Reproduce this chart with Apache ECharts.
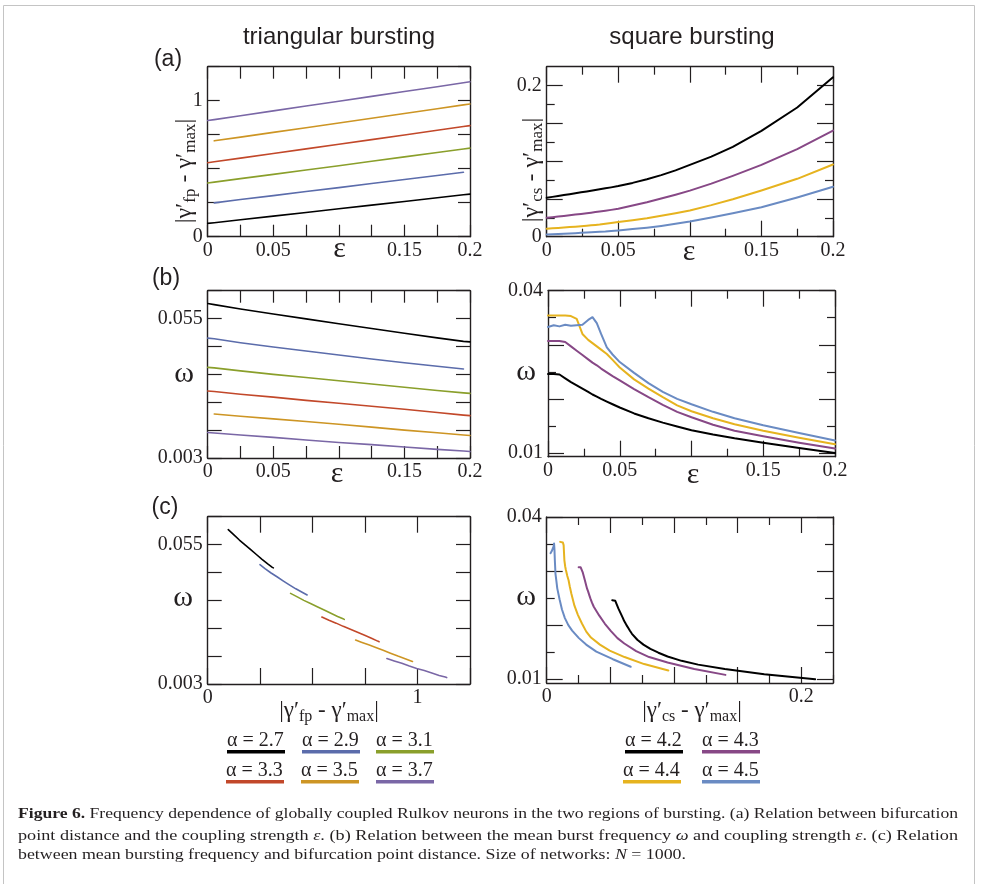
<!DOCTYPE html>
<html>
<head>
<meta charset="utf-8">
<title>Figure 6 – bursting frequency of coupled Rulkov neurons</title>
<script src="https://cdn.jsdelivr.net/npm/echarts@6/dist/echarts.min.js"></script>
<style>
  html, body { margin: 0; padding: 0; background: #ffffff; }
  #chart { width: 983px; height: 884px; }
</style>
</head>
<body>
<div id="chart"></div>
<script>
// ---------- triangular bursting: alpha = 2.7 ... 3.7 ----------
const epsTri = [0, 0.005, 0.025, 0.05, 0.075, 0.1, 0.125, 0.15, 0.175, 0.195, 0.2];
const alphaTri = ['2.7', '2.9', '3.1', '3.3', '3.5', '3.7'];
const colorsTri = ['#000000', '#5b6cab', '#8a9f2b', '#c2482a', '#cd9524', '#7a67a6'];

// bifurcation point distance |γ'fp - γ'max| versus coupling strength ε
const gapTri27 = [0.098, 0.103, 0.125, 0.151, 0.178, 0.205, 0.232, 0.259, 0.286, 0.308, 0.313];
const gapTri29 = [null, 0.249, 0.273, 0.302, 0.332, 0.361, 0.391, 0.420, 0.450, 0.474, null];
const gapTri31 = [0.395, 0.401, 0.427, 0.458, 0.490, 0.522, 0.555, 0.587, 0.619, 0.645, 0.651];
const gapTri33 = [0.544, 0.551, 0.578, 0.612, 0.646, 0.680, 0.714, 0.748, 0.783, 0.810, 0.817];
const gapTri35 = [null, 0.705, 0.732, 0.767, 0.801, 0.836, 0.871, 0.906, 0.941, 0.969, 0.976];
const gapTri37 = [0.854, 0.861, 0.889, 0.925, 0.961, 0.996, 1.032, 1.068, 1.103, 1.132, 1.139];

// mean burst frequency ω versus coupling strength ε
const omegaTri27 = [0.0606, 0.0602, 0.0586, 0.0567, 0.0549, 0.0531, 0.0513, 0.0495, 0.0478, 0.0465, 0.0463];
const omegaTri29 = [0.0477, 0.0475, 0.0460, 0.0444, 0.0429, 0.0414, 0.0399, 0.0385, 0.0372, 0.0362, null];
const omegaTri31 = [0.0368, 0.0366, 0.0355, 0.0342, 0.0330, 0.0318, 0.0306, 0.0294, 0.0282, 0.0273, 0.0271];
const omegaTri33 = [0.0280, 0.0278, 0.0268, 0.0257, 0.0245, 0.0234, 0.0223, 0.0212, 0.0200, 0.0190, 0.0188];
const omegaTri35 = [null, 0.0194, 0.0186, 0.0176, 0.0166, 0.0156, 0.0145, 0.0134, 0.0124, 0.0116, 0.0114];
const omegaTri37 = [0.0125, 0.0123, 0.0116, 0.0107, 0.0097, 0.0088, 0.0080, 0.0071, 0.0062, 0.0056, 0.0054];

// ---------- square bursting: alpha = 4.2 ... 4.5 ----------
const epsSq = [0, 0.004, 0.008, 0.012, 0.016, 0.02, 0.024, 0.028, 0.031, 0.034, 0.037, 0.041,
               0.045, 0.05, 0.06, 0.07, 0.08, 0.09, 0.1, 0.115, 0.13, 0.15, 0.175, 0.2];
const alphaSq = ['4.2', '4.3', '4.4', '4.5'];
const colorsSq = ['#000000', '#874886', '#e6b31f', '#6a8bc3'];

// |γ'cs - γ'max| versus ε
const gapSq42 = [0.0515, 0.0527, 0.0539, 0.0551, 0.0563, 0.0575, 0.0587, 0.0599, 0.0608, 0.0618, 0.0627, 0.0640,
                 0.0653, 0.0670, 0.0712, 0.0760, 0.0815, 0.0878, 0.0950, 0.1060, 0.1190, 0.1400, 0.1710, 0.2110];
const gapSq43 = [0.0251, 0.0259, 0.0267, 0.0275, 0.0284, 0.0293, 0.0302, 0.0311, 0.0318, 0.0326, 0.0334, 0.0344,
                 0.0355, 0.0370, 0.0412, 0.0456, 0.0505, 0.0556, 0.0610, 0.0703, 0.0805, 0.0950, 0.1160, 0.1405];
const gapSq44 = [0.0106, 0.0111, 0.0116, 0.0121, 0.0127, 0.0133, 0.0139, 0.0145, 0.0150, 0.0156, 0.0162, 0.0172,
                 0.0181, 0.0194, 0.0218, 0.0245, 0.0277, 0.0311, 0.0348, 0.0418, 0.0495, 0.0612, 0.0766, 0.0956];
const gapSq45 = [0.0030, 0.0033, 0.0036, 0.0040, 0.0043, 0.0047, 0.0051, 0.0055, 0.0058, 0.0061, 0.0064, 0.0069,
                 0.0076, 0.0083, 0.0101, 0.0120, 0.0143, 0.0170, 0.0200, 0.0253, 0.0310, 0.0390, 0.0520, 0.0660];

// ω versus ε
const omegaSq42 = [0.0246, 0.0246, 0.0245, 0.0238, 0.0231, 0.0225, 0.0219, 0.0213, 0.0208, 0.0204, 0.0200, 0.0195,
                   0.0190, 0.0184, 0.0173, 0.0164, 0.0156, 0.0149, 0.0142, 0.0134, 0.0127, 0.0119, 0.0109, 0.0100];
const omegaSq43 = [0.0307, 0.0307, 0.0307, 0.0305, 0.0297, 0.0289, 0.0281, 0.0273, 0.0267, 0.0262, 0.0256, 0.0249,
                   0.0242, 0.0234, 0.0218, 0.0203, 0.0189, 0.0176, 0.0166, 0.0152, 0.0141, 0.0131, 0.0119, 0.0108];
const omegaSq44 = [0.0354, 0.0354, 0.0354, 0.0354, 0.0353, 0.0348, 0.0320, 0.0309, 0.0303, 0.0297, 0.0291, 0.0283,
                   0.0272, 0.0258, 0.0236, 0.0219, 0.0203, 0.0188, 0.0177, 0.0164, 0.0153, 0.0141, 0.0128, 0.0116];
const omegaSq45 = [0.0333, 0.0336, 0.0334, 0.0337, 0.0335, 0.0336, 0.0337, 0.0346, 0.0351, 0.0340, 0.0320, 0.0295,
                   0.0282, 0.0268, 0.0248, 0.0229, 0.0213, 0.0200, 0.0190, 0.0176, 0.0164, 0.0151, 0.0137, 0.0123];

// ---------- axis ticks and tick labels ----------
const epsMajor = [0, 0.05, 0.1, 0.15, 0.2];
const epsMinor = [0.025, 0.075, 0.125, 0.175];
const epsLabels = [0, 0.05, 0.15, 0.2];
const gapTriTicks = [0, 0.25, 0.5, 0.75, 1, 1.25];
const gapTriLabels = [0, 1];
const gapSqMajor = [0, 0.05, 0.1, 0.15, 0.2];
const gapSqMinor = [0.025, 0.075, 0.125, 0.175];
const gapSqLabels = [0, 0.2];
const omegaTriTicks = [0.003, 0.0134, 0.0238, 0.0342, 0.0446, 0.055, 0.0654];
const omegaTriLabels = [0.003, 0.055];
const omegaSqMajor = [0.01, 0.02, 0.03, 0.04];
const omegaSqMinor = [0.015, 0.025, 0.035];
const omegaSqLabels = [0.01, 0.04];

// ---------- drawing ----------
const SERIF = '"Liberation Serif", "DejaVu Serif", "Times New Roman", serif';
const SANS = '"Liberation Sans", Arial, Helvetica, sans-serif';
const INK = '#231f20';

const gapTri = [gapTri27, gapTri29, gapTri31, gapTri33, gapTri35, gapTri37];
const omegaTri = [omegaTri27, omegaTri29, omegaTri31, omegaTri33, omegaTri35, omegaTri37];
const gapSq = [gapSq42, gapSq43, gapSq44, gapSq45];
const omegaSq = [omegaSq42, omegaSq43, omegaSq44, omegaSq45];

const grids = [
  { left: 207.7, top: 66.7, width: 262.3, height: 170 },    // (a) triangular
  { left: 546.7, top: 66.7, width: 286.3, height: 170 },    // (a) square
  { left: 207.7, top: 290.7, width: 262.3, height: 167.3 }, // (b) triangular
  { left: 548, top: 290.7, width: 287, height: 166 },       // (b) square
  { left: 207.7, top: 516.7, width: 262.3, height: 167.3 }, // (c) triangular
  { left: 546.7, top: 517, width: 286.3, height: 166 }      // (c) square
];

const fmt = v => String(+(+v).toFixed(4));
const xAxes = [];
const yAxes = [];

// Frame axis on both sides of the plot, with major and (optional) minor inward ticks.
function buildAxes(list, dim, gridIndex, cfg) {
  const main = dim === 'x' ? 'bottom' : 'left';
  const mirror = dim === 'x' ? 'top' : 'right';
  const first = list.length;
  const tickStyle = { color: INK, width: 1.2 };
  const base = { type: 'value', gridIndex, min: cfg.min, max: cfg.max, scale: true,
                 splitLine: { show: false }, minorTick: { show: false }, silent: true };
  [main, mirror].forEach(pos => {
    list.push(Object.assign({}, base, {
      position: pos,
      axisLine: { show: true, onZero: false, lineStyle: { color: INK, width: 1.4 } },
      axisTick: { show: true, inside: true, length: cfg.lenMajor, customValues: cfg.major, lineStyle: tickStyle },
      axisLabel: pos === main
        ? { show: true, customValues: cfg.labels, formatter: fmt, margin: cfg.margin || 5,
            fontFamily: SERIF, fontSize: 20, color: INK }
        : { show: false }
    }));
    if (cfg.minor) {
      list.push(Object.assign({}, base, {
        position: pos,
        axisLine: { show: false, onZero: false },
        axisTick: { show: true, inside: true, length: cfg.lenMinor, customValues: cfg.minor, lineStyle: tickStyle },
        axisLabel: { show: false }
      }));
    }
  });
  return first;
}

const epsTriAxis = { min: 0, max: 0.2, major: epsMajor, minor: epsMinor, labels: epsLabels, lenMajor: 12, lenMinor: 12, margin: 4 };
const epsSqAxis = { min: 0, max: 0.2, major: epsMajor, minor: epsMinor, labels: epsLabels, lenMajor: 16, lenMinor: 8, margin: 4 };
const gapTriYAxis = { min: 0, max: 1.25, major: gapTriTicks, labels: gapTriLabels, lenMajor: 12 };
const gapSqYAxis = { min: 0, max: 0.225, major: gapSqMajor, minor: gapSqMinor, labels: gapSqLabels, lenMajor: 16, lenMinor: 8 };
const omegaTriAxis = { min: 0.003, max: 0.0654, major: omegaTriTicks, labels: omegaTriLabels, lenMajor: 14 };
const omegaSqAxis = { min: 0.0093, max: 0.04, major: omegaSqMajor, minor: omegaSqMinor, labels: omegaSqLabels, lenMajor: 16, lenMinor: 8 };
const gapTriXAxis = { min: 0, max: 1.25, major: gapTriTicks, labels: gapTriLabels, lenMajor: 16, margin: 4 };
const gapSqXAxis = { min: 0, max: 0.225, major: gapSqMajor, minor: gapSqMinor.concat([0.225]), labels: gapSqLabels, lenMajor: 16, lenMinor: 8, margin: 4 };

const panels = [
  [epsTriAxis, gapTriYAxis],
  [epsSqAxis, gapSqYAxis],
  [epsTriAxis, omegaTriAxis],
  [epsSqAxis, omegaSqAxis],
  [gapTriXAxis, omegaTriAxis],
  [gapSqXAxis, omegaSqAxis]
];
const axisIdx = panels.map((p, g) => [buildAxes(xAxes, 'x', g, p[0]), buildAxes(yAxes, 'y', g, p[1])]);

function pairs(xs, ys) {
  const out = [];
  for (let i = 0; i < xs.length; i++) {
    if (xs[i] != null && ys[i] != null) out.push([xs[i], ys[i]]);
  }
  return out;
}

const series = [];
function addLine(panel, data, color, width, name) {
  series.push({
    type: 'line', name, data,
    xAxisIndex: axisIdx[panel][0], yAxisIndex: axisIdx[panel][1],
    showSymbol: false, symbol: 'none', smooth: false,
    clip: true, silent: true,
    lineStyle: { color, width, join: 'round', cap: 'round' }, itemStyle: { color },
    emphasis: { disabled: true }
  });
}

alphaTri.forEach((a, k) => {
  addLine(0, pairs(epsTri, gapTri[k]), colorsTri[k], 1.6, 'α = ' + a);
  addLine(2, pairs(epsTri, omegaTri[k]), colorsTri[k], 1.6, 'α = ' + a);
  addLine(4, pairs(gapTri[k], omegaTri[k]), colorsTri[k], 1.6, 'α = ' + a);
});
alphaSq.forEach((a, k) => {
  addLine(1, pairs(epsSq, gapSq[k]), colorsSq[k], 2, 'α = ' + a);
  addLine(3, pairs(epsSq, omegaSq[k]), colorsSq[k], 2, 'α = ' + a);
  addLine(5, pairs(gapSq[k], omegaSq[k]), colorsSq[k], 2, 'α = ' + a);
});

// ---------- texts ----------
function txt(x, y, text, size, family, extra) {
  return Object.assign({
    type: 'text', x, y, silent: true,
    style: { text, fontSize: size, fontFamily: family, fill: INK,
             align: 'center', verticalAlign: 'middle', textAlign: 'center', textVerticalAlign: 'middle' }
  }, extra || {});
}

// |γ'sub - γ'max| built from rich text fragments
function gapName(x, y, sub, rotated) {
  const el = {
    type: 'text', x, y, silent: true,
    style: {
      text: '{m||γ′}{s|' + sub + '}{m| - γ′}{s|max}{m||}',
      align: 'center', verticalAlign: 'middle', textAlign: 'center', textVerticalAlign: 'middle',
      fill: INK,
      rich: {
        m: { fontFamily: SERIF, fontSize: rotated ? 24 : 23, lineHeight: 28, fill: INK, verticalAlign: 'middle' },
        s: { fontFamily: SERIF, fontSize: rotated ? 17 : 16, lineHeight: 14, fill: INK, verticalAlign: 'bottom' }
      }
    }
  };
  if (rotated) el.rotation = Math.PI / 2;
  return el;
}

const graphics = [
  { type: 'rect', silent: true, shape: { x: 3.5, y: 5.5, width: 971, height: 900 },
    style: { fill: 'none', stroke: '#c4c4c4', lineWidth: 1 } },
  txt(339, 37, 'triangular bursting', 24, SANS),
  txt(692, 37, 'square bursting', 24, SANS),
  txt(168, 60, '(a)', 23, SANS),
  txt(166, 279, '(b)', 23, SANS),
  txt(165, 508, '(c)', 23, SANS),
  gapName(185, 171, 'fp', true),
  gapName(532, 170, 'cs', true),
  gapName(329, 711, 'fp', false),
  gapName(692, 711, 'cs', false),
  txt(339.5, 249, 'ε', 30, SERIF),
  txt(689, 252, 'ε', 30, SERIF),
  txt(337, 474, 'ε', 30, SERIF),
  txt(693, 475, 'ε', 30, SERIF),
  txt(184, 374, 'ω', 30, SERIF),
  txt(526, 372, 'ω', 30, SERIF),
  txt(183, 598, 'ω', 30, SERIF),
  txt(526, 597, 'ω', 30, SERIF)
];

// legend: label with a coloured rule underneath
const legendTri = [[227, 741], [302, 741], [376, 741], [226, 771], [301, 771], [376, 771]];
const legendSq = [[625, 741], [702, 741], [623, 771], [702, 771]];
function legendEntry(pos, label, color) {
  graphics.push({
    type: 'text', x: pos[0], y: pos[1], silent: true,
    style: { text: 'α = ' + label, fontFamily: SERIF, fontSize: 20, fill: INK,
             align: 'left', verticalAlign: 'middle', textAlign: 'left', textVerticalAlign: 'middle' }
  });
  graphics.push({
    type: 'rect', silent: true,
    shape: { x: pos[0], y: pos[1] + 9, width: 58, height: 3.5 },
    style: { fill: color }
  });
}
alphaTri.forEach((a, k) => legendEntry(legendTri[k], a, colorsTri[k]));
alphaSq.forEach((a, k) => legendEntry(legendSq[k], a, colorsSq[k]));

// caption, each line condensed to its measured width
const captionLines = [
  { y: 814, width: 940, parts: [['b', 'Figure 6.'], ['n', ' Frequency dependence of globally coupled Rulkov neurons in the two regions of bursting. (a) Relation between bifurcation']] },
  { y: 836, width: 940, parts: [['n', 'point distance and the coupling strength '], ['i', 'ε'], ['n', '. (b) Relation between the mean burst frequency '], ['i', 'ω'], ['n', ' and coupling strength '], ['i', 'ε'], ['n', '. (c) Relation']] },
  { y: 855, width: 668, parts: [['n', 'between mean bursting frequency and bifurcation point distance. Size of networks: '], ['i', 'N'], ['n', ' = 1000.']] }
];
const CAP_SIZE = 15.5;
const capFonts = {
  b: 'bold ' + CAP_SIZE + 'px ' + SERIF,
  n: CAP_SIZE + 'px ' + SERIF,
  i: 'italic ' + CAP_SIZE + 'px ' + SERIF
};
const measureCtx = document.createElement('canvas').getContext('2d');
captionLines.forEach(line => {
  let w = 0;
  line.parts.forEach(([k, t]) => { measureCtx.font = capFonts[k]; w += measureCtx.measureText(t).width; });
  const sx = line.width / w;
  graphics.push({
    type: 'text', x: 18, y: line.y, scaleX: sx, scaleY: 1, originX: 0, originY: 0, silent: true,
    style: {
      text: line.parts.map(([k, t]) => '{' + k + '|' + t + '}').join(''),
      align: 'left', verticalAlign: 'middle', textAlign: 'left', textVerticalAlign: 'middle',
      fill: INK, fontFamily: SERIF, fontSize: CAP_SIZE,
      rich: {
        b: { fontFamily: SERIF, fontSize: CAP_SIZE, fontWeight: 'bold', fill: INK },
        n: { fontFamily: SERIF, fontSize: CAP_SIZE, fill: INK },
        i: { fontFamily: SERIF, fontSize: CAP_SIZE, fontStyle: 'italic', fill: INK }
      }
    }
  });
});

const chart = echarts.init(document.getElementById('chart'), null, { renderer: 'canvas' });
chart.setOption({
  backgroundColor: '#ffffff',
  animation: false,
  grid: grids.map(g => Object.assign({ containLabel: false, show: false }, g)),
  xAxis: xAxes,
  yAxis: yAxes,
  series,
  graphic: { elements: graphics }
});
</script>
</body>
</html>
